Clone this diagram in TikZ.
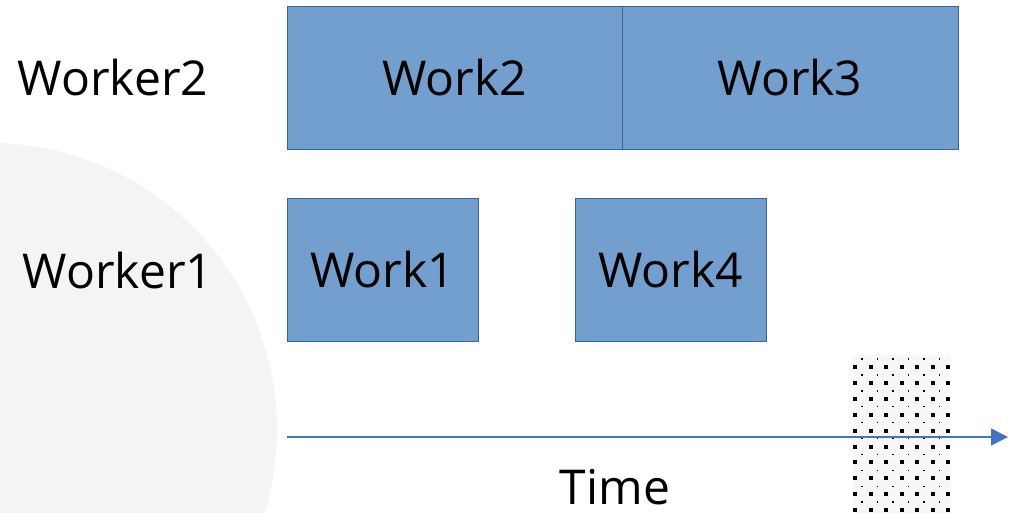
\documentclass[tikz,border=0pt]{standalone}
\usepackage{fontspec}
\setmainfont{Open Sans}
\usetikzlibrary{arrows.meta}

\definecolor{workfill}{RGB}{115,159,207}
\definecolor{workedge}{RGB}{60,100,165}
\definecolor{axisblue}{RGB}{68,114,196}
\definecolor{bgcircle}{RGB}{243,244,246}

\tikzset{
  work/.style={draw=workedge, line width=0.9pt, fill=workfill, inner sep=0pt,
    minimum height=143pt, font=\fontsize{48}{56}\selectfont},
  lbl/.style={inner sep=0pt, font=\fontsize{48}{56}\selectfont},
  timeline/.style={draw=axisblue, line width=1.5pt,
    -{Triangle[length=17pt,width=17pt]}}
}

\begin{document}
\begin{tikzpicture}[x=1pt, y=-1pt]
  \useasboundingbox (0,0) rectangle (1024,513);

  % Background
  \begin{scope}
    \clip (0,0) rectangle (1024,513);
    \fill[bgcircle] (-10,430) circle (287);
  \end{scope}

  % Dotted patch
  \fill[gray!6] (853,355) rectangle (951,513);
  \foreach \c in {0,...,6} {
    \foreach \r in {0,...,9} {
      \fill[black] (855+\c*15.5-2,367+\r*15.9-2) rectangle ++(4,4);
    }
  }
  \foreach \c in {0,...,5} {
    \foreach \r in {0,...,9} {
      \fill[black] (862+\c*15.5-0.7,359+\r*15.9-0.7) rectangle ++(1.4,1.4);
    }
  }

  % Worker labels
  \node[lbl] (w2) at (113,78) {Worker2};
  \node[lbl] (w1) at (118,270) {Worker1};

  % Work boxes
  \node[work, minimum width=335pt] (work2) at (454.5,77.5) {Work2};
  \node[work, minimum width=336pt] (work3) at (790,77.5) {Work3};
  \node[work, minimum width=191pt] (work1) at (382.5,269.5) {Work1};
  \node[work, minimum width=191pt] (work4) at (670.5,269.5) {Work4};

  % Time axis
  \coordinate (t0) at (287,437);
  \coordinate (t1) at (1008,437);
  \draw[timeline] (t0) -- (t1);
  \node[lbl] (time) at (615,487) {Time};
\end{tikzpicture}
\end{document}
